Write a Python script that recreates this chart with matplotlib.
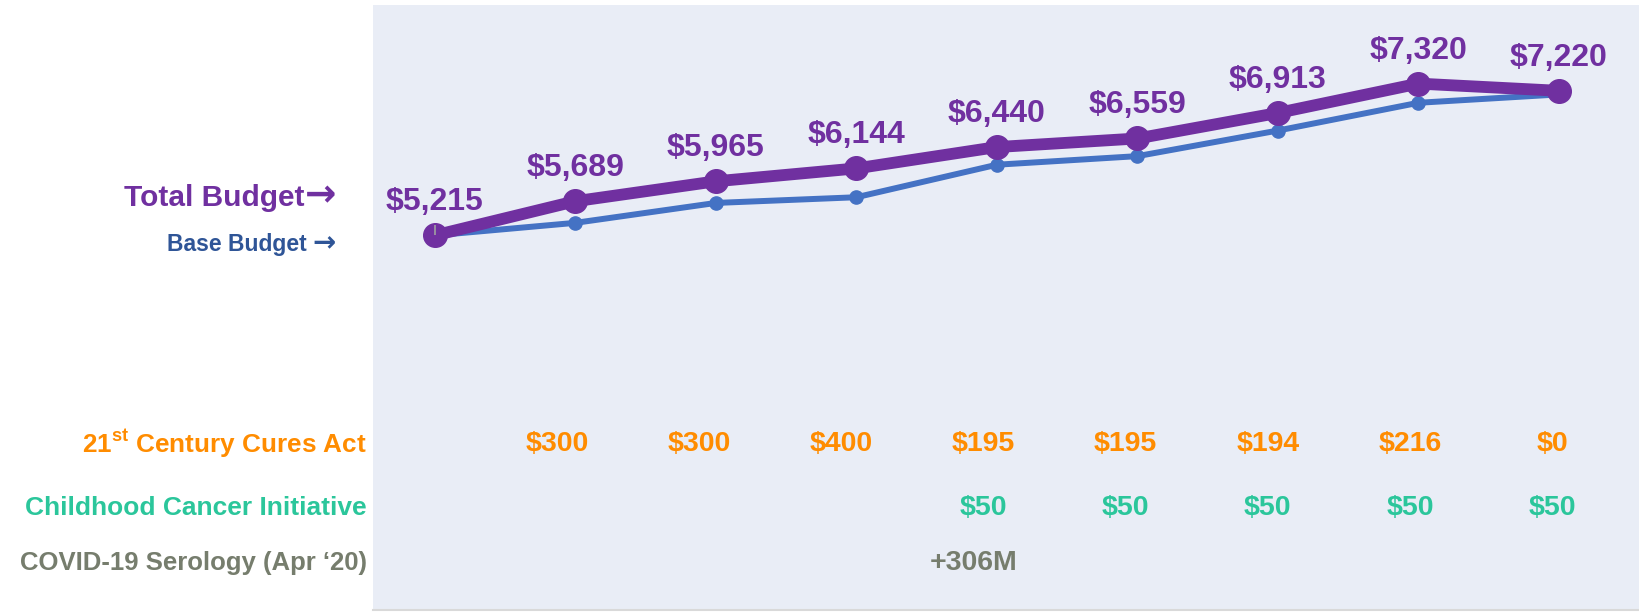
import matplotlib.pyplot as plt
from matplotlib import transforms

plt.rcParams['font.family'] = ['Liberation Sans', 'DejaVu Sans']
plt.rcParams['mathtext.fontset'] = 'custom'
plt.rcParams['mathtext.bf'] = 'Liberation Sans:bold'
plt.rcParams['mathtext.rm'] = 'Liberation Sans:bold'

# budget by year ($ millions)
total_budget = [5215, 5689, 5965, 6144, 6440, 6559, 6913, 7320, 7220]
base_budget = [5215, 5389, 5665, 5744, 6195, 6314, 6669, 7054, 7170]
cures_act = ["", "$300", "$300", "$400", "$195", "$195", "$194", "$216", "$0"]
childhood_cancer = ["", "", "", "", "$50", "$50", "$50", "$50", "$50"]
covid_serology = ["", "", "", "", "+306M", "", "", "", ""]

purple = "#7030A0"
blue = "#4472C4"
orange = "#FF8C00"
green = "#2BC69B"
grey = "#767D6D"

fig = plt.figure(figsize=(16.39, 6.13), dpi=100)
ax = fig.add_axes([373 / 1639, 1 - 610 / 613, 1 - 373 / 1639, 605 / 613])
ax.set_facecolor("#E9EDF6")

x = list(range(len(total_budget)))
ax.plot(x, base_budget, color=blue, lw=4.3, marker="o", ms=9.5, zorder=2)
ax.plot(x, total_budget, color=purple, lw=8.5, marker="o", ms=17, zorder=3)
ax.vlines(x[0], total_budget[0], total_budget[0] + 150, color="#A0A0A0", lw=1.2, zorder=4)

for xi, v in zip(x, total_budget):
    ax.annotate(f"${v:,}", (xi, v), xytext=(0, 18), textcoords="offset points",
                ha="center", va="baseline", fontsize=23, fontweight="bold", color=purple)

ax.set_xlim(-0.44, 8.57)
ax.set_ylim(20, 8410)
ax.set_xticks([])
ax.set_yticks([])
for s in ["top", "left", "right"]:
    ax.spines[s].set_visible(False)
ax.spines["bottom"].set_color("#D9D9D9")
ax.spines["bottom"].set_linewidth(1.5)

# rows of extra funding under the lines
trans = transforms.blended_transform_factory(ax.transData, fig.transFigure)
rows = [(cures_act, orange, 444), (childhood_cancer, green, 508), (covid_serology, grey, 563)]
for labels, col, ypix in rows:
    for xi, lab in zip(x, labels):
        if lab:
            dx = -0.07 if lab.startswith("+") else 0
            ax.text(-0.144 + 1.012 * xi + dx, 1 - ypix / 613, lab, transform=trans,
                    ha="center", va="center", fontsize=20.5, fontweight="bold", color=col)

fig.text(367 / 1639, 1 - 444 / 613, r"21$^{\mathbf{st}}$ Century Cures Act", ha="right", va="center",
         fontsize=18.8, fontweight="bold", color=orange)
fig.text(367 / 1639, 1 - 508 / 613, "Childhood Cancer Initiative", ha="right", va="center",
         fontsize=19, fontweight="bold", color=green)
fig.text(367 / 1639, 1 - 563 / 613, "COVID-19 Serology (Apr \u201820)", ha="right", va="center",
         fontsize=18.5, fontweight="bold", color=grey)

fig.text(305 / 1639, 1 - 198 / 613, "Total Budget", ha="right", va="center",
         fontsize=21.5, fontweight="bold", color=purple)
fig.text(305 / 1639, 1 - 196 / 613, "\u2192", ha="left", va="center",
         fontsize=27, fontweight="bold", color=purple, family="DejaVu Sans")
fig.text(307 / 1639, 1 - 244 / 613, "Base Budget", ha="right", va="center",
         fontsize=16.5, fontweight="bold", color="#2F5597")
fig.text(312 / 1639, 1 - 243 / 613, "\u2192", ha="left", va="center",
         fontsize=20, fontweight="bold", color="#2F5597", family="DejaVu Sans")

fig.savefig("out.png", dpi=100)
